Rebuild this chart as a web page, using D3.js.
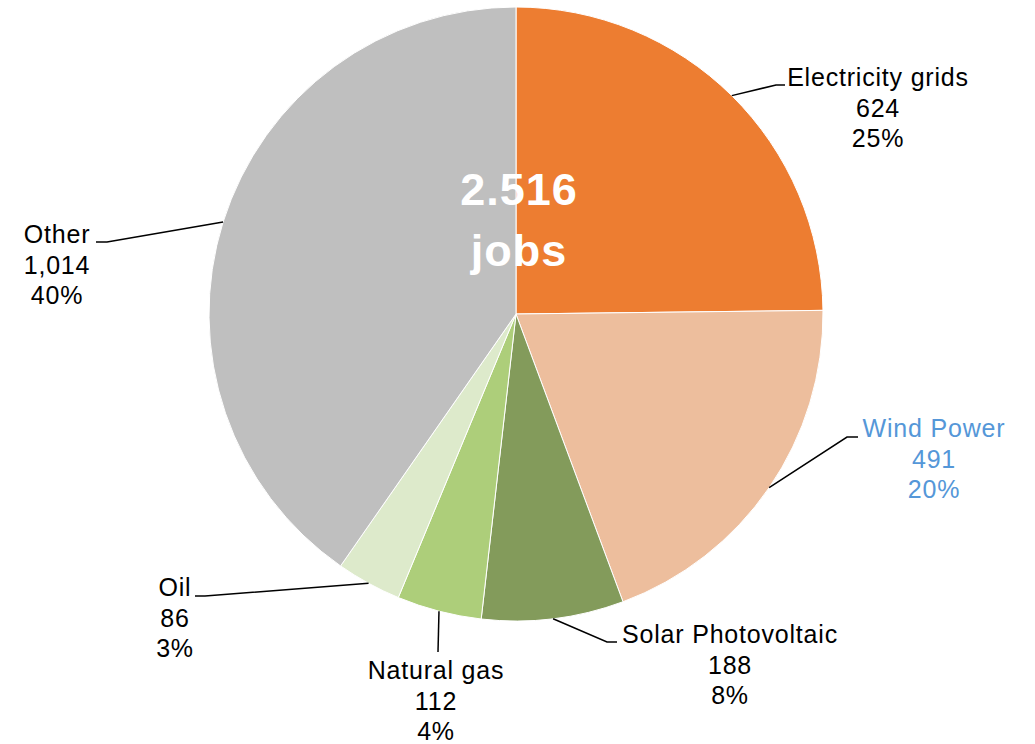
<!DOCTYPE html>
<html>
<head>
<meta charset="utf-8">
<script src="https://cdn.jsdelivr.net/npm/d3@7"></script>
<style>
  html, body { margin: 0; padding: 0; background: #fff; }
  svg { display: block; }
  text { font-family: "Liberation Sans", Arial, sans-serif; }
</style>
</head>
<body>
<svg id="chart" width="1035" height="744"></svg>
<script>
// ---- data ----
const categories = ["Electricity grids", "Wind Power", "Solar Photovoltaic", "Natural gas", "Oil", "Other"];
const values = [624, 491, 188, 112, 86, 1014];
const percentLabels = ["25%", "20%", "8%", "4%", "3%", "40%"];
const totalLabel = ["2.516", "jobs"];

// ---- styling / layout (not data) ----
const colors = ["#ED7D31", "#EDBE9D", "#839B5B", "#ADCE7A", "#DDEACB", "#BFBFBF"];
const textColors = ["#000", "#5597D8", "#000", "#000", "#000", "#000"];
const labelPos = [[878, 86], [934, 437], [730, 643], [436, 679], [175, 596], [57, 243]];
const leaderTail = [
  [[776, 85], [785, 85]],
  [[847, 437], [858, 437]],
  [[607, 642], [617, 642]],
  [[438, 652]],
  [[205, 596], [195, 596]],
  [[107, 242], [96, 242]]
];

const svg = d3.select("#chart");
const cx = 516, cy = 314, R = 307;
const g = svg.append("g").attr("transform", `translate(${cx},${cy})`);

const pie = d3.pie().sort(null).value(d => d);
const arcs = pie(values);
const arc = d3.arc().innerRadius(0).outerRadius(R);

g.selectAll("path.slice")
  .data(arcs)
  .join("path")
  .attr("class", "slice")
  .attr("d", arc)
  .attr("fill", (d, i) => colors[i])
  .attr("stroke", "#fff")
  .attr("stroke-width", 1);

// leader lines
const line = d3.line();
arcs.forEach((d, i) => {
  const a = (d.startAngle + d.endAngle) / 2;
  const start = [cx + R * Math.sin(a), cy - R * Math.cos(a)];
  const pts = [start].concat(leaderTail[i]);
  svg.append("path")
    .attr("d", line(pts))
    .attr("fill", "none")
    .attr("stroke", "#000")
    .attr("stroke-width", 1.5);
});

// labels
const fmt = d3.format(",");
arcs.forEach((d, i) => {
  const [x, y] = labelPos[i];
  const t = svg.append("text")
    .attr("x", x).attr("y", y)
    .attr("text-anchor", "middle")
    .attr("font-size", 25)
    .attr("letter-spacing", 0.8)
    .attr("fill", textColors[i]);
  [categories[i], fmt(values[i]), percentLabels[i]].forEach((s, k) => {
    t.append("tspan").attr("x", x).attr("y", y + k * 30.5).text(s);
  });
});

// center total
svg.append("text")
  .attr("x", 519).attr("y", 205)
  .attr("text-anchor", "middle")
  .attr("font-size", 45).attr("font-weight", "bold")
  .attr("letter-spacing", 1)
  .attr("fill", "#fff")
  .text(totalLabel[0]);
svg.append("text")
  .attr("x", 519).attr("y", 266)
  .attr("text-anchor", "middle")
  .attr("font-size", 45).attr("font-weight", "bold")
  .attr("letter-spacing", 1)
  .attr("fill", "#fff")
  .text(totalLabel[1]);
</script>
</body>
</html>
